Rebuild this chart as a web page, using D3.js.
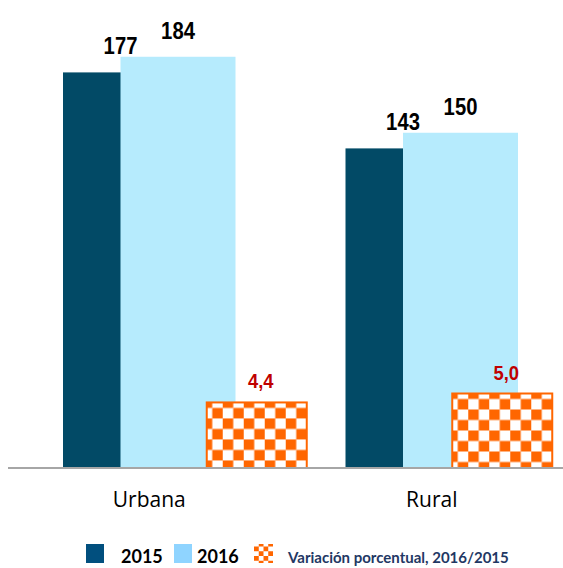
<!DOCTYPE html>
<html>
<head>
<meta charset="utf-8">
<script src="https://cdn.jsdelivr.net/npm/d3@7"></script>
<style>
    body { margin: 0; background: #fff; }
    svg { display: block; }
</style>
</head>
<body>
<svg></svg>
<script>
const width = 563;
const height = 568;
const baseline = 468;
const barWidth = 115;
const varWidth = 100;
const cell = 10.5;

const categories = ["Urbana", "Rural"];
const years = ["2015", "2016"];
const values2015 = [177, 143];
const values2016 = [184, 150];
const variation = [4.4, 5.0];
const variationLabels = ["4,4", "5,0"];

const colors = {
    "2015": "#024a66",
    "2016": "#b6ebfd",
};
const legendColors = {
    "2015": "#014f7e",
    "2016": "#8fd4ff",
};
const orange = "#ff6600";
const labelFont = "'Liberation Sans', Arial, sans-serif";

const svg = d3.select("svg")
    .attr("width", width)
    .attr("height", height);

const x = d3.scaleBand()
    .domain(categories)
    .range([8, 573]);

// variation series sits on its own secondary axes
const x2 = d3.scaleBand()
    .domain(categories)
    .range([134, 625]);

const y = d3.scaleLinear()
    .domain([0, 200])
    .range([baseline, baseline - 447]);

const y2 = d3.scaleLinear()
    .domain([0, 30])
    .range([baseline, baseline - 447]);

const series = years.map((year, s) => ({
    year,
    values: s === 0 ? values2015 : values2016,
}));

// overlap 50%: second bar starts half a bar to the right
const barX = (cat, s) => x(cat) + x.bandwidth() / 2 - barWidth * 0.75 + s * barWidth / 2;

const defs = svg.append("defs");

function checker(id, px, py, size) {
    const p = defs.append("pattern")
        .attr("id", id)
        .attr("patternUnits", "userSpaceOnUse")
        .attr("x", px)
        .attr("y", py)
        .attr("width", size * 2)
        .attr("height", size * 2);
    p.append("rect").attr("width", size * 2).attr("height", size * 2).attr("fill", "#fff");
    p.append("rect").attr("width", size).attr("height", size).attr("fill", orange);
    p.append("rect").attr("x", size).attr("y", size).attr("width", size).attr("height", size).attr("fill", orange);
}

const groups = svg.selectAll("g.series")
    .data(series)
    .enter()
    .append("g")
    .attr("class", "series");

groups.selectAll("rect")
    .data((d, s) => d.values.map((v, i) => ({ v, cat: categories[i], s, year: d.year })))
    .enter()
    .append("rect")
    .attr("x", d => barX(d.cat, d.s))
    .attr("y", d => y(d.v))
    .attr("width", barWidth)
    .attr("height", d => baseline - y(d.v))
    .attr("fill", d => colors[d.year]);

// labels are narrow in the original, squeeze them a little
groups.selectAll("text")
    .data((d, s) => d.values.map((v, i) => ({ v, cat: categories[i], s })))
    .enter()
    .append("text")
    .attr("transform", d => `translate(${barX(d.cat, d.s) + barWidth / 2},${y(d.v) - 18}) scale(0.88,1)`)
    .attr("text-anchor", "middle")
    .style("font-family", labelFont)
    .style("font-weight", 700)
    .style("font-size", "23px")
    .attr("fill", "#000")
    .text(d => d.v);

// variation bars
const varData = variation.map((v, i) => ({ v, cat: categories[i], label: variationLabels[i], i }));

varData.forEach(d => {
    const bx = x2(d.cat) + x2.bandwidth() / 2 - varWidth / 2;
    checker("check" + d.i, bx - 5, y2(d.v) - 5, cell);
});

svg.selectAll("rect.variation")
    .data(varData)
    .enter()
    .append("rect")
    .attr("class", "variation")
    .attr("x", d => x2(d.cat) + x2.bandwidth() / 2 - varWidth / 2)
    .attr("y", d => y2(d.v))
    .attr("width", varWidth)
    .attr("height", d => baseline - y2(d.v))
    .attr("fill", d => `url(#check${d.i})`)
    .attr("stroke", orange)
    .attr("stroke-width", 2);

svg.selectAll("text.variation")
    .data(varData)
    .enter()
    .append("text")
    .attr("class", "variation")
    .attr("transform", d => `translate(${x2(d.cat) + x2.bandwidth() / 2 + 4},${y2(d.v) - 14}) scale(0.92,1)`)
    .attr("text-anchor", "middle")
    .style("font-family", labelFont)
    .style("font-weight", 700)
    .style("font-size", "20px")
    .attr("fill", "#c00000")
    .text(d => d.label);

// axis
const axis = svg.append("g")
    .attr("transform", `translate(0,${baseline})`)
    .call(d3.axisBottom(x).tickSize(0).tickPadding(24));

axis.select(".domain")
    .attr("d", `M8,0H${width}`)
    .attr("stroke", "#a6a6a6")
    .attr("stroke-width", 2);

axis.selectAll("text")
    .style("font-family", "'Open Sans', sans-serif")
    .style("font-size", "21px")
    .attr("fill", "#000");

// legend
const legend = svg.append("g").attr("transform", "translate(0,544)");

legend.append("rect").attr("x", 86).attr("width", 18).attr("height", 19).attr("fill", legendColors["2015"]);
legend.append("text").attr("x", 121).attr("y", 19).text("2015");
legend.append("rect").attr("x", 174).attr("width", 18).attr("height", 19).attr("fill", legendColors["2016"]);
legend.append("text").attr("x", 197).attr("y", 19).text("2016");

checker("checkLegend", 254, 544, 4.75);
legend.append("rect").attr("x", 254).attr("width", 19).attr("height", 19).attr("fill", "url(#checkLegend)");

legend.selectAll("text")
    .style("font-family", "Lato, sans-serif")
    .style("font-weight", 700)
    .style("font-size", "18px")
    .attr("fill", "#000");

legend.append("text")
    .attr("x", 288)
    .attr("y", 19)
    .style("font-family", "Lato, sans-serif")
    .style("font-weight", 700)
    .style("font-size", "15px")
    .attr("fill", "#1f3864")
    .text("Variación porcentual, 2016/2015");
</script>
</body>
</html>
